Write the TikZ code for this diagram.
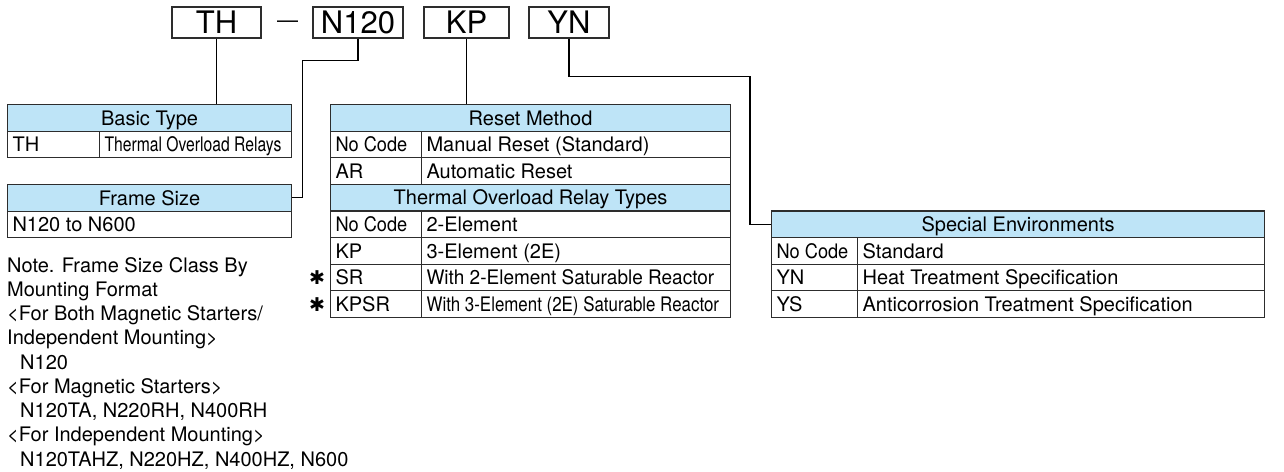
\documentclass[tikz,border=0pt]{standalone}
\usepackage{fontspec}
\setmainfont{TeX Gyre Heros}
\newfontfamily\narrowfont[FakeStretch=0.785]{TeX Gyre Heros}
\newfontfamily\semifont[FakeStretch=0.845]{TeX Gyre Heros}
\newfontfamily\slimfont[FakeStretch=0.95]{TeX Gyre Heros}
\newfontfamily\tightfont[FakeStretch=0.91]{TeX Gyre Heros}
\newfontfamily\symbfont{DejaVu Sans}
\usetikzlibrary{positioning}
\definecolor{hdrblue}{RGB}{190,228,247}
\definecolor{rulegray}{RGB}{45,45,45}
\newcommand{\codefont}{\fontsize{31}{31}\selectfont}
\newcommand{\tblfont}{\fontsize{20}{24.25}\selectfont}

\begin{document}
\begin{tikzpicture}[x=1pt, y=-1pt,
    code/.style={draw=rulegray, line width=1.2pt, minimum height=31pt, inner sep=0pt, font=\codefont},
    hdr/.style={draw=rulegray, line width=1.1pt, fill=hdrblue, anchor=north west, minimum height=26.6pt, inner sep=0pt, text height=14.4pt, text depth=0pt, font=\tblfont},
    cell/.style={draw=rulegray, line width=1.1pt, anchor=north west, minimum height=26.6pt, inner xsep=5pt, inner ysep=0pt, text width=#1, align=flush left, text height=14.4pt, text depth=0pt, font=\tblfont},
    nocode/.style={font=\tightfont\tblfont},
    link/.style={draw=black, line width=1.1pt},
    star/.style={inner sep=0pt, font=\symbfont\fontsize{19}{19}\selectfont},
]
    \useasboundingbox (0,0) rectangle (1284,471);

    % Model code
    \node[code, minimum width=89pt] (th) at (216.5,22.5) {TH};
    \node[inner sep=0pt, font=\fontsize{21}{21}\selectfont] (dash) at (287.5,24.5) {—};
    \node[code, minimum width=90pt] (n120) at (358,22.5) {N120};
    \node[code, minimum width=85pt] (kp) at (466.5,22.5) {KP};
    \node[code, minimum width=80pt] (yn) at (569,22.5) {YN};

    % Basic type
    \node[hdr, minimum width=284pt] (basic) at (7,104) {Basic Type};
    \node[cell=82pt] (basic-c) at (7,130.6) {TH};
    \node[cell=182pt, font=\narrowfont\tblfont] (basic-d) at (99,130.6) {Thermal~Overload~Relays};

    % Frame size
    \node[hdr, minimum width=284pt] (frame) at (7,184) {Frame Size};
    \node[cell=274pt] (frame-c) at (7,210.6) {N120 to N600};

    % Note
    \node[anchor=north west, inner sep=0pt, align=left, font=\tblfont] (note) at (7,257) {Note. Frame Size Class By\\Mounting Format\\<For Both Magnetic Starters/\\Independent Mounting>\\\hspace*{13pt}N120\\<For Magnetic Starters>\\\hspace*{13pt}N120TA, N220RH, N400RH\\<For Independent Mounting>\\\hspace*{13pt}N120TAHZ, N220HZ, N400HZ, N600};

    % Reset method / relay types
    \node[hdr, minimum width=400pt] (reset) at (330,104) {Reset Method};
    \node[cell=81pt, nocode] (reset-c1) at (330,130.6) {No~Code};
    \node[cell=299pt] (reset-d1) at (421,130.6) {Manual Reset (Standard)};
    \node[cell=81pt] (reset-c2) at (330,157.2) {AR};
    \node[cell=299pt] (reset-d2) at (421,157.2) {Automatic Reset};
    \node[hdr, minimum width=400pt] (types) at (330,183.8) {Thermal Overload Relay Types};
    \node[cell=81pt, nocode] (types-c1) at (330,210.4) {No~Code};
    \node[cell=299pt] (types-d1) at (421,210.4) {2-Element};
    \node[cell=81pt] (types-c2) at (330,237) {KP};
    \node[cell=299pt] (types-d2) at (421,237) {3-Element (2E)};
    \node[cell=81pt] (types-c3) at (330,263.6) {SR};
    \node[cell=299pt, font=\slimfont\tblfont] (types-d3) at (421,263.6) {With~2-Element~Saturable~Reactor};
    \node[cell=81pt] (types-c4) at (330,290.2) {KPSR};
    \node[cell=299pt, font=\semifont\tblfont] (types-d4) at (421,290.2) {With~3-Element~(2E)~Saturable~Reactor};
    \node[star] (star1) at (317,277.5) {✱};
    \node[star] (star2) at (317,304.1) {✱};

    % Special environments
    \node[hdr, minimum width=493pt] (spec) at (771,210.4) {Special Environments};
    \node[cell=76pt, nocode] (spec-c1) at (771,237) {No~Code};
    \node[cell=397pt] (spec-d1) at (857,237) {Standard};
    \node[cell=76pt] (spec-c2) at (771,263.6) {YN};
    \node[cell=397pt] (spec-d2) at (857,263.6) {Heat Treatment Specification};
    \node[cell=76pt] (spec-c3) at (771,290.2) {YS};
    \node[cell=397pt] (spec-d3) at (857,290.2) {Anticorrosion Treatment Specification};

    % Leaders
    \draw[link] (th.south) -- (th.south |- basic.north);
    \draw[link] (n120.south) -- ++(0,22) -| ([xshift=10pt]frame.east) -- (frame.east);
    \draw[link] (kp.south) -- (kp.south |- reset.north);
    \draw[link] (yn.south) -- ++(0,38) -| ([xshift=-21pt]spec.west) -- (spec.west);
\end{tikzpicture}
\end{document}
